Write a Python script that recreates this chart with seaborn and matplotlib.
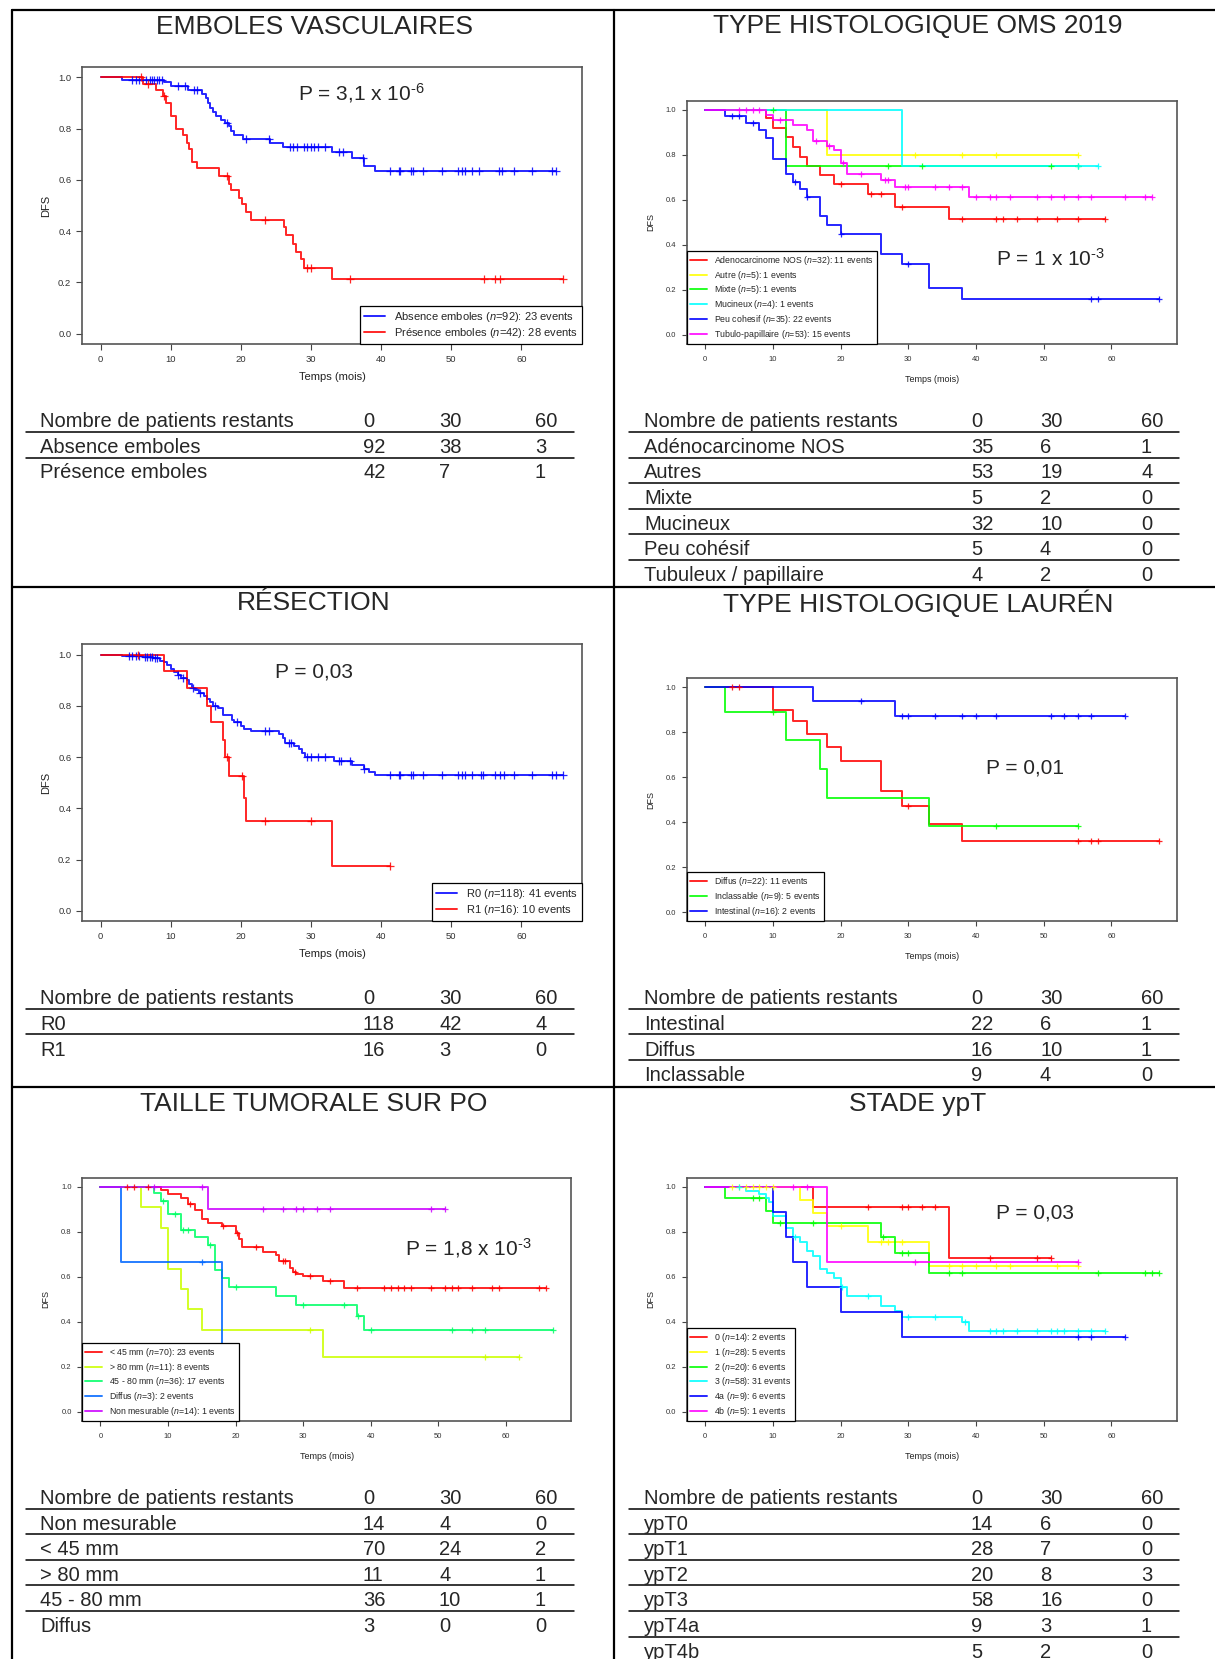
import numpy as np
import matplotlib.pyplot as plt
import seaborn as sns

W, H = 1215, 1659

# ---------------- data ----------------
# EMBOLES VASCULAIRES
abs_t = [3, 9, 10, 12.5, 14.5, 15, 15.3, 15.6, 16, 16.5, 17.2, 17.8, 18.3, 18.6, 19, 20.3, 24.1, 26, 33, 35.8, 37.6, 39.2]
abs_s = [0.99, 0.98, 0.965, 0.95, 0.935, 0.92, 0.90, 0.88, 0.865, 0.85, 0.835, 0.82, 0.81, 0.79, 0.775, 0.76, 0.745, 0.73, 0.71, 0.685, 0.655, 0.635]
abs_end = 65
abs_cens = [4.5, 5, 5.5, 6.5, 7, 7.3, 7.6, 8, 8.3, 8.8, 11, 12, 13.3, 13.8, 18, 20.8, 24, 27, 27.5, 28,
            29, 29.5, 30, 30.5, 31, 32, 34, 34.5, 37.4, 41.2, 42.5, 42.7, 44.2, 44.5, 46, 48.7, 51, 51.5,
            52, 53, 54, 56.8, 57.2, 59, 61.5, 64.3, 65]
pres_t = [6, 7.9, 8.9, 9.3, 10, 10.7, 11.8, 12.3, 12.6, 13, 13.8, 16.9, 18.3, 18.6, 19.8, 20.2, 20.7, 21.4,
          26.2, 26.4, 27.4, 27.8, 28.6, 29, 33]
pres_s = [0.975, 0.95, 0.925, 0.9, 0.85, 0.8, 0.775, 0.745, 0.72, 0.67, 0.645, 0.615, 0.585, 0.56, 0.53,
          0.505, 0.475, 0.445, 0.415, 0.385, 0.35, 0.32, 0.29, 0.255, 0.215]
pres_end = 66
pres_cens = [5.8, 6.8, 9, 18, 23.5, 29.5, 30, 35.5, 54.7, 56.3, 57, 66]

# TYPE HISTOLOGIQUE OMS 2019
adeno_t = [9, 10, 12, 13, 14, 15, 17, 19, 24, 28, 36]
adeno_s = [0.963, 0.918, 0.878, 0.837, 0.793, 0.751, 0.71, 0.67, 0.625, 0.57, 0.514]
adeno_end = 59
adeno_cens = [20, 24.5, 26, 29, 38, 43, 44, 46, 49, 52, 55, 59]
autre_t = [18]
autre_s = [0.8]
autre_end = 55
autre_cens = [31, 38, 43, 55]
mixte_t = [12]
mixte_s = [0.75]
mixte_end = 55
mixte_cens = [10, 27, 32, 51, 55]
mucin_t = [29]
mucin_s = [0.75]
mucin_end = 58
mucin_cens = [55, 58]
peu_t = [3, 6, 8, 9, 10, 12, 13, 14, 15, 17, 18, 20, 26, 29, 33, 38]
peu_s = [0.973, 0.94, 0.911, 0.877, 0.78, 0.714, 0.681, 0.647, 0.612, 0.529, 0.489, 0.449, 0.358, 0.314, 0.209, 0.157]
peu_end = 67
peu_cens = [4, 5, 7, 13.3, 15, 20, 30, 57, 58, 67]
tubulo_t = [9, 10, 13, 15, 16, 18, 19, 20, 21, 26, 28, 39]
tubulo_s = [0.978, 0.956, 0.933, 0.91, 0.86, 0.84, 0.82, 0.765, 0.714, 0.69, 0.658, 0.612]
tubulo_end = 66
tubulo_cens = [5, 6, 7, 8, 11, 16.3, 18.3, 20.3, 23, 26.5, 27, 29.5, 30, 34, 36, 38, 40, 42, 43, 45,
               49, 51, 53, 55, 57, 62, 65, 66]

# RESECTION
r0_t = [3, 6, 7.5, 8.5, 9, 9.5, 10, 10.5, 11, 11.5, 12.3, 12.6, 13, 13.5, 14, 14.7, 15.2, 15.6, 16, 16.7,
        17.5, 18.7, 19, 20, 20.5, 21.5, 25.5, 26, 26.3, 27.6, 28.3, 28.7, 29.2, 33.3, 35.8, 37.5, 38.3, 39.2]
r0_s = [0.995, 0.99, 0.985, 0.975, 0.97, 0.96, 0.945, 0.93, 0.92, 0.91, 0.9, 0.885, 0.87, 0.86, 0.85, 0.84,
        0.825, 0.815, 0.8, 0.79, 0.765, 0.745, 0.735, 0.72, 0.71, 0.70, 0.688, 0.675, 0.653, 0.643, 0.63,
        0.617, 0.60, 0.584, 0.568, 0.553, 0.54, 0.528]
r0_end = 66
r0_cens = [4, 4.5, 5, 5.5, 6.3, 6.6, 7, 7.3, 7.8, 8, 11, 11.8, 13.2, 14.2, 16.3, 19.5, 23.5, 24, 26.8, 27.2,
           29.5, 30, 31, 32, 34, 34.3, 35.5, 37.6, 41.2, 42.5, 42.7, 44.2, 44.5, 46, 48.7, 51, 51.5, 52,
           53, 54.2, 54.5, 56.2, 57, 57.5, 59, 61.5, 64.3, 65, 66]
r1_t = [9, 12.3, 15.2, 15.7, 17.5, 17.8, 18.3, 20.4, 20.8, 33]
r1_s = [0.935, 0.87, 0.8, 0.735, 0.665, 0.6, 0.525, 0.44, 0.35, 0.175]
r1_end = 41.3
r1_cens = [5.3, 18.1, 20.2, 23.5, 30, 41.3]

# TYPE HISTOLOGIQUE LAUREN
diffus_t = [10, 13, 15, 18, 20, 26, 29, 33, 38]
diffus_s = [0.9, 0.852, 0.792, 0.733, 0.672, 0.537, 0.47, 0.393, 0.315]
diffus_end = 67
diffus_cens = [4, 5, 30, 55, 57, 58, 67]
inclass_t = [3, 12, 17, 18, 33]
inclass_s = [0.889, 0.764, 0.636, 0.509, 0.381]
inclass_end = 55
inclass_cens = [10, 43, 55]
intest_t = [16, 28]
intest_s = [0.938, 0.871]
intest_end = 62
intest_cens = [23, 29, 30, 34, 38, 40, 43, 51, 53, 55, 57, 62]

# TAILLE TUMORALE SUR PO
lt45_t = [9, 10, 12, 13, 14, 15, 16, 18, 20, 20.5, 21, 24, 26, 26.5, 28, 28.5, 29, 30, 33, 36]
lt45_s = [0.985, 0.967, 0.948, 0.925, 0.896, 0.858, 0.84, 0.825, 0.794, 0.768, 0.731, 0.71, 0.695, 0.67,
          0.64, 0.62, 0.612, 0.604, 0.58, 0.552]
lt45_end = 66
lt45_cens = [4, 5, 7, 13.3, 18.2, 20.2, 23, 27, 27.3, 28.8, 31, 34, 38, 42, 43, 44, 45, 46, 49, 51, 52,
             53, 55, 58, 59, 65, 66]
gt80_t = [6, 9, 10, 12, 13, 15, 33]
gt80_s = [0.909, 0.818, 0.636, 0.545, 0.455, 0.364, 0.243]
gt80_end = 62
gt80_cens = [31, 57, 62]
mid_t = [8, 9, 10, 12, 14, 16, 17, 18, 19, 26, 29, 38, 39]
mid_s = [0.97, 0.938, 0.877, 0.81, 0.777, 0.741, 0.629, 0.596, 0.556, 0.516, 0.476, 0.425, 0.362]
mid_end = 67
mid_cens = [9.2, 11, 12.2, 13, 16.2, 20, 30, 36, 38.2, 40, 52, 55, 57, 67]
dif5_t = [3, 18]
dif5_s = [0.667, 0.0]
dif5_end = 18
dif5_cens = [15]
nonmes_t = [16]
nonmes_s = [0.9]
nonmes_end = 51
nonmes_cens = [8, 15, 24, 27, 29, 30, 32, 34, 49, 51]

# STADE ypT
t0_t = [16, 36]
t0_s = [0.909, 0.682]
t0_end = 51
t0_cens = [24, 29, 30, 32, 34, 42, 49, 51]
t1_t = [14, 16, 18, 24, 33]
t1_s = [0.941, 0.885, 0.825, 0.756, 0.646]
t1_end = 55
t1_cens = [4, 5, 6, 7, 8, 9, 10, 20, 26, 27, 29, 36, 38, 40, 43, 45, 52, 55]
t2_t = [3, 9, 10, 26, 28, 33]
t2_s = [0.95, 0.893, 0.839, 0.775, 0.704, 0.615]
t2_end = 67
t2_cens = [7, 8, 11, 16, 26.2, 29, 30, 36, 38, 58, 65, 66, 67]
t3_t = [6, 8, 9, 9.5, 10, 12, 13, 14, 15, 16, 17, 18, 19, 20, 21, 26, 28, 29, 38, 39]
t3_s = [0.983, 0.966, 0.948, 0.93, 0.87, 0.815, 0.775, 0.756, 0.714, 0.694, 0.635, 0.615, 0.596, 0.556,
        0.515, 0.469, 0.45, 0.42, 0.40, 0.361]
t3_end = 59
t3_cens = [5, 13.3, 20.2, 24, 30, 34, 38.3, 42, 43, 44, 46, 49, 51, 52, 53, 55, 57, 59]
t4a_t = [10, 12, 13, 15, 20, 29]
t4a_s = [0.889, 0.778, 0.667, 0.556, 0.444, 0.333]
t4a_end = 62
t4a_cens = [55, 57, 62]
t4b_t = [18]
t4b_s = [0.667]
t4b_end = 55
t4b_cens = [13, 15, 31, 55]

# tables "Nombre de patients restants"
tab_cols = ["0", "30", "60"]
emb_rows = ["Absence emboles", "Présence emboles"]
emb_vals = [[92, 38, 3], [42, 7, 1]]
oms_rows = ["Adénocarcinome NOS", "Autres", "Mixte", "Mucineux", "Peu cohésif", "Tubuleux / papillaire"]
oms_vals = [[35, 6, 1], [53, 19, 4], [5, 2, 0], [32, 10, 0], [5, 4, 0], [4, 2, 0]]
res_rows = ["R0", "R1"]
res_vals = [[118, 42, 4], [16, 3, 0]]
lau_rows = ["Intestinal", "Diffus", "Inclassable"]
lau_vals = [[22, 6, 1], [16, 10, 1], [9, 4, 0]]
tai_rows = ["Non mesurable", "< 45 mm", "> 80 mm", "45 - 80 mm", "Diffus"]
tai_vals = [[14, 4, 0], [70, 24, 2], [11, 4, 1], [36, 10, 1], [3, 0, 0]]
ypt_rows = ["ypT0", "ypT1", "ypT2", "ypT3", "ypT4a", "ypT4b"]
ypt_vals = [[14, 6, 0], [28, 7, 0], [20, 8, 3], [58, 16, 0], [9, 3, 1], [5, 2, 0]]

# ---------------- style ----------------
sns.set_theme(style="white")
plt.rcParams["font.family"] = ["Liberation Sans", "DejaVu Sans"]
plt.rcParams["mathtext.fontset"] = "custom"
plt.rcParams["mathtext.rm"] = "Liberation Sans"
plt.rcParams["mathtext.it"] = "Liberation Sans:italic"
plt.rcParams["mathtext.bf"] = "Liberation Sans:bold"

fig = plt.figure(figsize=(W / 100, H / 100), dpi=100)
bg = fig.add_axes([0, 0, 1, 1])
bg.set_xlim(0, W)
bg.set_ylim(H, 0)
bg.axis("off")

# cell borders
bw = 1.6
bg.plot([11.5, W], [10, 10], color="black", lw=bw)
bg.plot([11.5, 11.5], [10, H], color="black", lw=bw)
bg.plot([614, 614], [10, H], color="black", lw=bw)
bg.plot([11.5, W], [587, 587], color="black", lw=bw)
bg.plot([11.5, W], [1087, 1087], color="black", lw=bw)

# titles
for x, y, t in [(314, 26.5, "EMBOLES VASCULAIRES"), (918, 26.5, "TYPE HISTOLOGIQUE OMS 2019"),
                (314, 603, "RÉSECTION"), (918, 603, "TYPE HISTOLOGIQUE LAURÉN"),
                (314, 1104, "TAILLE TUMORALE SUR PO"), (918, 1104, "STADE ypT")]:
    bg.text(x, y, t, fontsize=19, ha="center", va="center")


def table(left, base0, rows, vals):
    if left:
        xl, xc, xline = 40, [363, 439, 535], [26, 574]
    else:
        xl, xc, xline = 644, [971, 1040, 1141], [629, 1179]
    lines = [("Nombre de patients restants", tab_cols)] + \
            [(r, [str(v) for v in vv]) for r, vv in zip(rows, vals)]
    for i, (lab, vv) in enumerate(lines):
        yb = base0 + i * 25.6
        bg.text(xl, yb, lab, fontsize=14.5, va="baseline")
        for x, v in zip(xc, vv):
            bg.text(x, yb, v, fontsize=14.5, va="baseline")
        if i < len(lines) - 1:
            bg.plot(xline, [yb + 4.6] * 2, color="black", lw=1.1)


table(True, 427.3, emb_rows, emb_vals)
table(False, 427.3, oms_rows, oms_vals)
table(True, 1004.3, res_rows, res_vals)
table(False, 1004.3, lau_rows, lau_vals)
table(True, 1503.9, tai_rows, tai_vals)
table(False, 1503.9, ypt_rows, ypt_vals)


def km_panel(box, xmax, curves, ptext, pxy, loc, big):
    x0, y0, x1, y1 = box
    ax = fig.add_axes([x0 / W, 1 - y1 / H, (x1 - x0) / W, (y1 - y0) / H])
    for lab, col, t, s, end, cens in curves:
        xs = np.r_[0, t, end]
        ys = np.r_[1, s, s[-1]]
        sns.lineplot(x=xs, y=ys, drawstyle="steps-post", estimator=None, sort=False,
                     color=col, lw=1.4, alpha=0.85, label=lab, ax=ax)
        cy = ys[np.searchsorted(xs, cens, side="right") - 1]
        sns.scatterplot(x=cens, y=cy, marker="+", s=30 if big else 24, color=col,
                        linewidth=0.9, alpha=0.85, ax=ax, legend=False, zorder=3)
    ax.set_xlim(-0.04 * xmax, 1.04 * xmax)
    ax.set_ylim(-0.04, 1.04)
    ax.set_xticks(range(0, 61, 10))
    ax.set_yticks([0, 0.2, 0.4, 0.6, 0.8, 1.0])
    ax.set_yticklabels(["0.0", "0.2", "0.4", "0.6", "0.8", "1.0"])
    for sp in ax.spines.values():
        sp.set_color("#555555")
        sp.set_linewidth(1.2)
    if big:
        ts, ls, lg, tl, xp, yp, xlp, ylp = 6.8, 8, 8, 4.3, 3.5, 3.4, 6, 4.8
    else:
        ts, ls, lg, tl, xp, yp, xlp, ylp = 5.5, 6.5, 6.3, 3.6, 5.1, 4.0, 8.9, 8
    ax.tick_params(axis="both", direction="out", length=tl, width=0.8, color="#444444",
                   labelsize=ts, labelcolor="#333333", bottom=True, left=True)
    ax.tick_params(axis="x", pad=xp)
    ax.tick_params(axis="y", pad=yp)
    ax.set_xlabel("Temps (mois)", fontsize=ls, labelpad=xlp, color="#222222")
    ax.set_ylabel("DFS", fontsize=ls, labelpad=ylp, color="#222222")
    ax.text(pxy[0], pxy[1], ptext, fontsize=15, ha="left", va="baseline")
    leg = ax.legend(loc=loc, borderaxespad=0, fontsize=lg, frameon=True, fancybox=False,
                    framealpha=1, edgecolor="black", handlelength=1.9, handletextpad=0.85,
                    borderpad=0.35, labelspacing=0.2)
    leg.get_frame().set_linewidth(0.9)
    for h in leg.get_lines():
        h.set_linewidth(1.4)
    return ax


N = r"($\it{n}$="
km_panel((82, 67, 582, 344), 66,
         [("Absence emboles " + N + "92): 23 events", "#0000FF", abs_t, abs_s, abs_end, abs_cens),
          ("Présence emboles " + N + "42): 28 events", "#FF0000", pres_t, pres_s, pres_end, pres_cens)],
         r"P = 3,1 x 10$^{\text{-6}}$", (28.2, 0.909), "lower right", True)

km_panel((687, 101, 1177, 343.7), 67,
         [("Adenocarcinome NOS " + N + "32): 11 events", "#FF0000", adeno_t, adeno_s, adeno_end, adeno_cens),
          ("Autre " + N + "5): 1 events", "#FFFF00", autre_t, autre_s, autre_end, autre_cens),
          ("Mixte " + N + "5): 1 events", "#00FF00", mixte_t, mixte_s, mixte_end, mixte_cens),
          ("Mucineux " + N + "4): 1 events", "#00FFFF", mucin_t, mucin_s, mucin_end, mucin_cens),
          ("Peu cohesif " + N + "35): 22 events", "#0000FF", peu_t, peu_s, peu_end, peu_cens),
          ("Tubulo-papillaire " + N + "53): 15 events", "#FF00FF", tubulo_t, tubulo_s, tubulo_end, tubulo_cens)],
         r"P = 1 x 10$^{\text{-3}}$", (42.9, 0.3085), "lower left", False)

km_panel((82, 644.3, 582, 921), 66,
         [("R0 " + N + "118): 41 events", "#0000FF", r0_t, r0_s, r0_end, r0_cens),
          ("R1 " + N + "16): 10 events", "#FF0000", r1_t, r1_s, r1_end, r1_cens)],
         "P = 0,03", (24.85, 0.9115), "lower right", True)

km_panel((687, 678.3, 1177, 921), 67,
         [("Diffus " + N + "22): 11 events", "#FF0000", diffus_t, diffus_s, diffus_end, diffus_cens),
          ("Inclassable " + N + "9): 5 events", "#00FF00", inclass_t, inclass_s, inclass_end, inclass_cens),
          ("Intestinal " + N + "16): 2 events", "#0000FF", intest_t, intest_s, intest_end, intest_cens)],
         "P = 0,01", (41.5, 0.6155), "lower left", False)

km_panel((82.3, 1177.7, 571.1, 1421), 67,
         [("< 45 mm " + N + "70): 23 events", "#FF0000", lt45_t, lt45_s, lt45_end, lt45_cens),
          ("> 80 mm " + N + "11): 8 events", "#CCFF00", gt80_t, gt80_s, gt80_end, gt80_cens),
          ("45 - 80 mm " + N + "36): 17 events", "#00FF66", mid_t, mid_s, mid_end, mid_cens),
          ("Diffus " + N + "3): 2 events", "#0066FF", dif5_t, dif5_s, dif5_end, dif5_cens),
          ("Non mesurable " + N + "14): 1 events", "#CC00FF", nonmes_t, nonmes_s, nonmes_end, nonmes_cens)],
         r"P = 1,8 x 10$^{\text{-3}}$", (45.05, 0.694), "lower left", False)

km_panel((687, 1177.7, 1177, 1421), 67,
         [("0 " + N + "14): 2 events", "#FF0000", t0_t, t0_s, t0_end, t0_cens),
          ("1 " + N + "28): 5 events", "#FFFF00", t1_t, t1_s, t1_end, t1_cens),
          ("2 " + N + "20): 6 events", "#00FF00", t2_t, t2_s, t2_end, t2_cens),
          ("3 " + N + "58): 31 events", "#00FFFF", t3_t, t3_s, t3_end, t3_cens),
          ("4a " + N + "9): 6 events", "#0000FF", t4a_t, t4a_s, t4a_end, t4a_cens),
          ("4b " + N + "5): 1 events", "#FF00FF", t4b_t, t4b_s, t4b_end, t4b_cens)],
         "P = 0,03", (42.9, 0.857), "lower left", False)

fig.savefig("out.png", dpi=100)
